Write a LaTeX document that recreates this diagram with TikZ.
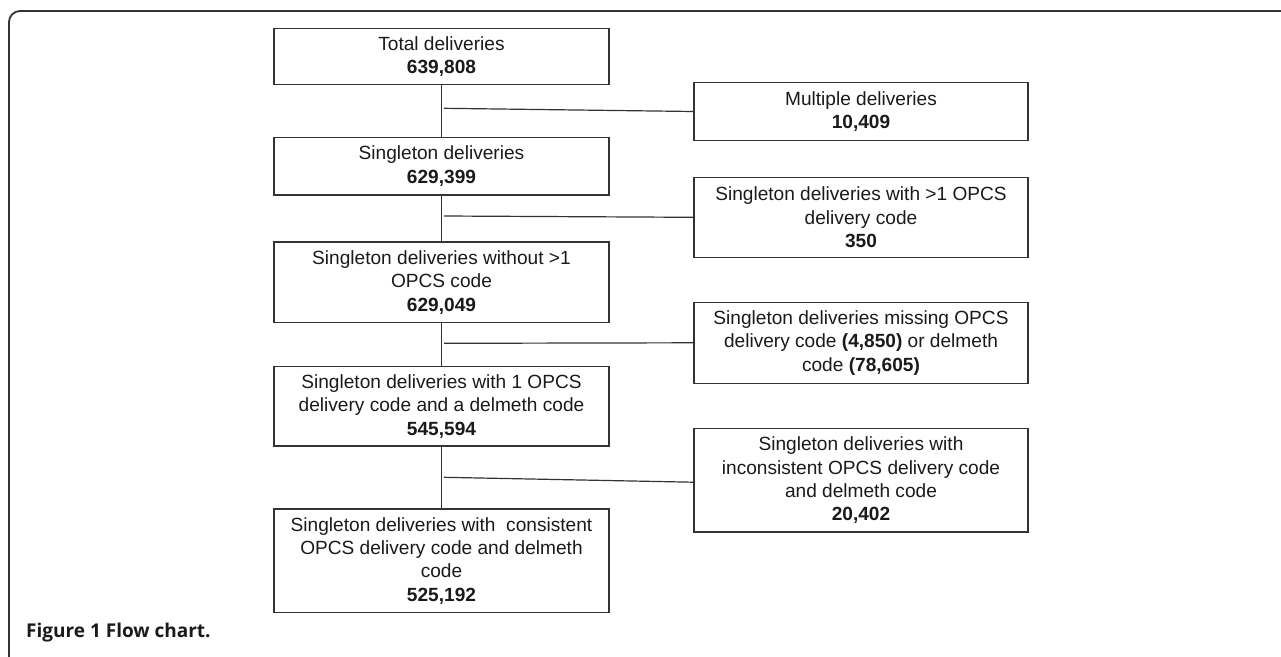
\documentclass[tikz,border=0pt]{standalone}
\usepackage{fontspec}
\setmainfont{Liberation Sans}
\newfontfamily\capfont{Open Sans}
\definecolor{lin}{HTML}{333333}
\definecolor{txt}{HTML}{1A1A1A}
\begin{document}
\begin{tikzpicture}[x=1pt,y=-1pt,
  box/.style={draw=lin, line width=1.3pt, rectangle, inner sep=0pt, align=center,
    text=txt, font=\fontsize{19.1}{23.3}\selectfont},
  lbox/.style={box, minimum width=335pt},
  rbox/.style={box, minimum width=334pt},
  conn/.style={draw=lin, line width=1.2pt}]
\useasboundingbox (0,0) rectangle (1281,656);
% frame
\draw[lin, line width=1.8pt] (9,670) -- (9,22) arc[start angle=180, end angle=270, radius=11] -- (1290,11);
% left column
\node[lbox, minimum height=56pt] (b1) at (441.5,56.3) {Total deliveries\\\textbf{639,808}};
\node[lbox, minimum height=57.7pt] (b2) at (441.5,166.2) {Singleton deliveries\\\textbf{629,399}};
\node[lbox, minimum height=80.7pt] (b3) at (441.5,282.3) {Singleton deliveries without >1\\OPCS code\\\textbf{629,049}};
\node[lbox, minimum height=79.3pt] (b4) at (441.5,406.3) {Singleton deliveries with 1 OPCS\\delivery code and a delmeth code\\\textbf{545,594}};
\node[lbox, minimum height=103.7pt] (b5) at (441.5,560.8) {Singleton deliveries with\ \ consistent\\OPCS delivery code and delmeth\\code\\\textbf{525,192}};
% right column
\node[rbox, minimum height=57.6pt] (r1) at (861,111.5) {Multiple deliveries\\\textbf{10,409}};
\node[rbox, minimum height=80pt] (r2) at (861,217.3) {Singleton deliveries with >1 OPCS\\delivery code\\\textbf{350}};
\node[rbox, minimum height=81pt] (r3) at (861,342.8) {Singleton deliveries missing OPCS\\delivery code \textbf{(4,850)} or delmeth\\code \textbf{(78,605)}};
\node[rbox, minimum height=103.7pt] (r4) at (861,480.2) {Singleton deliveries with\\inconsistent OPCS delivery code\\and delmeth code\\\textbf{20,402}};
% vertical connectors
\draw[conn] (b1) -- (b2);
\draw[conn] (b2) -- (b3);
\draw[conn] (b3) -- (b4);
\draw[conn] (b4) -- (b5);
% branch connectors
\coordinate (j1) at (444,108.3);
\coordinate (j2) at (444,216);
\coordinate (j3) at (444,343.3);
\coordinate (j4) at (444,477.3);
\draw[conn] (j1) -- (r1.west);
\draw[conn] (j2) -- (r2.west);
\draw[conn] (j3) -- (r3.west);
\draw[conn] (j4) -- ([yshift=-2pt]r4.west);
% caption
\node[anchor=base west, inner sep=0pt, text=txt, font=\capfont\bfseries\fontsize{19}{21}\selectfont] (cap) at (26,637.5) {Figure 1 Flow chart.};
\end{tikzpicture}
\end{document}
